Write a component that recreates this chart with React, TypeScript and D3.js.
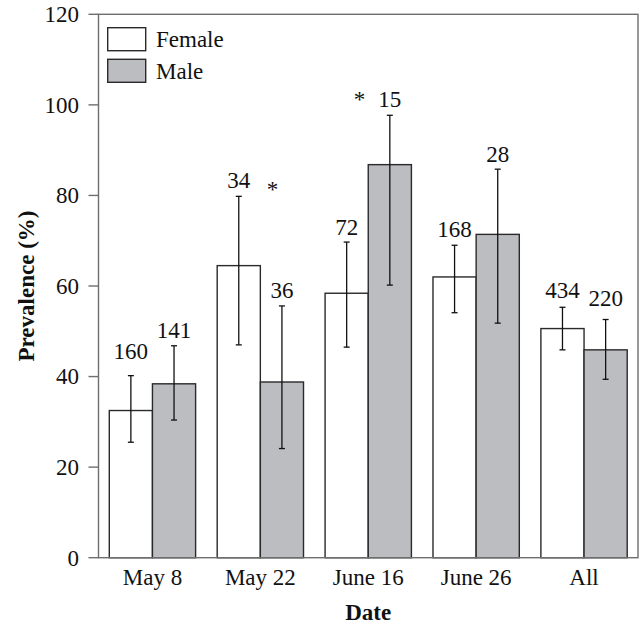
import React from "react";
import * as d3 from "d3";

const dates = ["May 8", "May 22", "June 16", "June 26", "All"];
const series = ["Female", "Male"];
const femaleValues = [32.5, 64.5, 58.4, 62.0, 50.6];
const maleValues = [38.4, 38.8, 86.8, 71.4, 45.9];
const femaleErrLow = [25.5, 47.0, 46.5, 54.1, 45.9];
const femaleErrHigh = [40.2, 79.8, 69.7, 69.0, 55.3];
const maleErrLow = [30.4, 24.1, 60.2, 51.8, 39.4];
const maleErrHigh = [46.8, 55.6, 97.7, 85.8, 52.6];
const femaleN = ["160", "34", "72", "168", "434"];
const maleN = ["141", "36", "15", "28", "220"];
// label baseline levels (data units)
const femaleNLevel = [43.8, 81.6, 71.3, 70.9, 57.4];
const maleNLevel = [48.5, 57.4, 99.5, 87.3, 55.6];
// significance markers: group, position within group (0..1), baseline level
const starGroups = ["May 22", "June 16"];
const starFrac = [0.64, 0.4];
const starLevel = [79.6, 99.5];
const yTicks = [0, 20, 40, 60, 80, 100, 120];

const W = 642;
const H = 626;
const left = 98.5;
const right = 638;
const top = 14.3;
const bottom = 557.7;
const FONT = "Liberation Serif, Times New Roman, serif";
const FS = 23;
const MALE_FILL = "#bcbdc1";
const FRAME = "#6e6e6e";
const BAR_STROKE = "#2a2a2a";

export default function App() {
  const x = d3.scaleBand<string>().domain(dates).range([left, right]).paddingInner(0.2).paddingOuter(0.1);
  const xs = d3.scaleBand<string>().domain(series).range([0, x.bandwidth()]);
  const y = d3.scaleLinear().domain([0, 120]).range([bottom, top]);

  const groups = dates.map((d, i) => ({
    date: d,
    bars: [
      { s: "Female", v: femaleValues[i], lo: femaleErrLow[i], hi: femaleErrHigh[i], n: femaleN[i], nl: femaleNLevel[i], fill: "#ffffff" },
      { s: "Male", v: maleValues[i], lo: maleErrLow[i], hi: maleErrHigh[i], n: maleN[i], nl: maleNLevel[i], fill: MALE_FILL },
    ],
  }));

  const cap = 3;

  return (
    <svg width={W} height={H} style={{ position: "absolute", left: 0, top: 0, background: "#fff", fontFamily: FONT }}>
      <rect x={0} y={0} width={W} height={H} fill="#fff" />
      {groups.map((g) =>
        g.bars.map((b) => {
          const bx = (x(g.date) as number) + (xs(b.s) as number);
          const bw = xs.bandwidth();
          const cx = bx + bw / 2;
          return (
            <g key={g.date + b.s}>
              <rect x={bx} y={y(b.v)} width={bw} height={y(0) - y(b.v)} fill={b.fill} stroke={BAR_STROKE} strokeWidth={1.4} />
              <line x1={cx} x2={cx} y1={y(b.hi)} y2={y(b.lo)} stroke="#111" strokeWidth={1.3} />
              <line x1={cx - cap} x2={cx + cap} y1={y(b.hi)} y2={y(b.hi)} stroke="#111" strokeWidth={1.3} />
              <line x1={cx - cap} x2={cx + cap} y1={y(b.lo)} y2={y(b.lo)} stroke="#111" strokeWidth={1.3} />
              <text x={cx} y={y(b.nl)} textAnchor="middle" fontSize={FS} fill="#111">
                {b.n}
              </text>
            </g>
          );
        })
      )}
      {starGroups.map((sg, i) => (
        <text key={sg} x={(x(sg) as number) + x.bandwidth() * starFrac[i]} y={y(starLevel[i])} textAnchor="middle" fontSize={FS} fill="#111">
          *
        </text>
      ))}
      {/* frame */}
      <rect x={left} y={top} width={right - left} height={bottom - top} fill="none" stroke={FRAME} strokeWidth={1.4} />
      {/* y ticks */}
      {yTicks.map((t) => (
        <g key={t}>
          <line x1={left - 10} x2={left} y1={y(t)} y2={y(t)} stroke={FRAME} strokeWidth={1.4} />
          <text x={left - 19.5} y={y(t)} dy="0.34em" textAnchor="end" fontSize={FS} fill="#111">
            {t}
          </text>
        </g>
      ))}
      {/* x labels */}
      {dates.map((d) => (
        <text key={d} x={(x(d) as number) + x.bandwidth() / 2} y={585} textAnchor="middle" fontSize={FS} fill="#111">
          {d}
        </text>
      ))}
      <text x={(left + right) / 2} y={620} textAnchor="middle" fontSize={FS} fontWeight="bold" fill="#111">
        Date
      </text>
      <text transform={`translate(34, ${(top + bottom) / 2}) rotate(-90)`} textAnchor="middle" fontSize={FS} fontWeight="bold" fill="#111">
        Prevalence (%)
      </text>
      {/* legend */}
      {series.map((s, i) => (
        <g key={s} transform={`translate(107.7, ${27.7 + i * 31.6})`}>
          <rect x={0} y={0} width={38} height={23} fill={i === 0 ? "#ffffff" : MALE_FILL} stroke={BAR_STROKE} strokeWidth={1.4} />
          <text x={48.3} y={11.5} dy="0.35em" fontSize={FS} fill="#111">
            {s}
          </text>
        </g>
      ))}
    </svg>
  );
}
